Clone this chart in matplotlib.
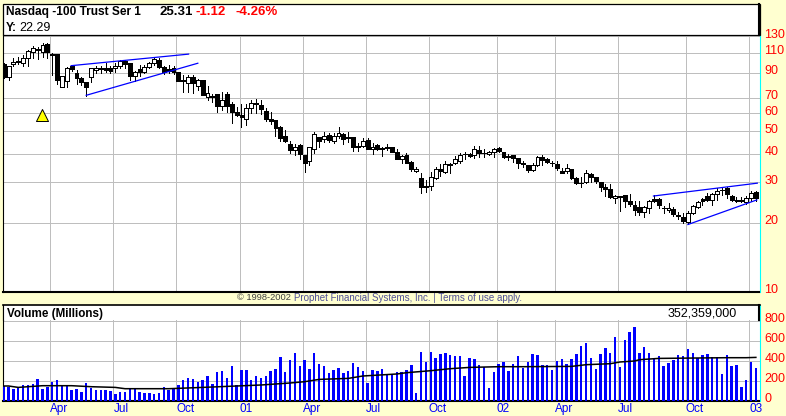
import matplotlib
matplotlib.use('Agg')
import numpy as np
import matplotlib.pyplot as plt
from matplotlib.patches import Rectangle
from matplotlib.transforms import ScaledTranslation

plt.rcParams['font.family'] = ['Liberation Sans', 'DejaVu Sans']

# Weekly candles, oldest first
opens = [98.4, 86.3, 98.4, 100.4, 99.4, 104.4, 110.8, 114.2, 110.8, 120.2, 108.6, 108.6, 78, 82.9, 96.4, 89.9, 85.4, 82.1, 86.3, 92.5,
         93.6, 94.5, 94.5, 94.5, 96.4, 101.4, 99.4, 87.2, 93.6, 90.8, 95.4, 99.4, 102.4, 95.4, 93.6, 94.5, 90.8, 83.7, 81.3, 86.3,
         78.8, 83.7, 70.6, 71.3, 72.8, 64.4, 72.8, 65.8, 60.7, 58.9, 56.6, 63.2, 65.8, 65.1, 61.3, 56.6, 56, 52.2, 47.6, 44,
         41.4, 43.5, 39.4, 37.1, 41.8, 47.2, 46.2, 48.1, 45.3, 47.6, 48.6, 46.7, 47.2, 42.7, 43.1, 45.8, 41.8, 43.5, 42.2, 42.2,
         42.7, 40.6, 37.8, 39.4, 36.7, 33.5, 31.2, 28.8, 28.8, 31.2, 34.2, 33.2, 35.8, 36.3, 37.1, 39.7, 39.8, 39.4, 41.4, 40.2,
         39.8, 40.6, 42.2, 40.6, 39, 39.4, 38.2, 36.3, 35.6, 33.9, 35.6, 38.6, 37.8, 36.3, 36, 33.5, 33.5, 34.2, 31.2, 29.7,
         30, 32.5, 31.6, 30, 28.5, 28, 25.6, 26.1, 26.3, 24.8, 23.8, 23.4, 22.2, 23.1, 25.3, 25.3, 23.1, 22.7, 22.9, 21.4,
         21.1, 20.1, 22, 23.4, 25.3, 26.1, 25, 26.6, 27.7, 28.3, 26.1, 25, 25, 24.6, 25.6, 27.2]
closes = [86.3, 96.4, 100.4, 101.4, 104.4, 111.9, 115.4, 113, 119, 110.8, 107.6, 83.7, 87.2, 94.5, 93.6, 85.4, 82.1, 78, 94.5, 94.5,
          94, 92.5, 91.7, 96.4, 101.4, 98.4, 87.2, 90.8, 90.8, 95.4, 99.4, 103.4, 95.4, 90.8, 91.7, 90.8, 82.9, 82.9, 86.3, 81.3,
          83.7, 72, 73.5, 70.6, 64.4, 68.4, 64.4, 60.7, 58.9, 57.7, 63.2, 66.4, 66.4, 62.5, 56.6, 55.4, 51.7, 46.7, 45.3, 41.4,
          42.7, 39.8, 36.3, 42.7, 48.6, 45.3, 47.6, 45.8, 47.6, 49.1, 46.2, 47.2, 42.7, 43.1, 45.3, 41.8, 42.7, 41.8, 42, 42.7,
          40.6, 37.8, 39, 36.3, 34.2, 34.2, 28.5, 28.7, 31.6, 34.2, 33.5, 36, 36, 37.8, 39.4, 39.8, 39, 41.8, 40.2, 40.3,
          40.6, 41.8, 41, 38.6, 38.6, 38.2, 36.3, 36.1, 33.9, 35.6, 38.6, 37.4, 36.7, 36.4, 34.6, 32.9, 34.6, 31.2, 29.7, 29.8,
          32.9, 31.6, 30.3, 28.5, 28, 25.8, 26.1, 25.8, 24.8, 24.1, 22.7, 22.2, 23.4, 24.8, 24.8, 23.8, 23.2, 23.1, 21.8, 21.5,
          20.3, 22, 23.6, 24.6, 24.8, 25, 26.6, 27.4, 27.8, 26.6, 25, 24.8, 24.8, 25.6, 26.9, 25.6]
highs = [99.4, 96.4, 104.4, 105.5, 107.6, 113, 117.8, 116.6, 121.4, 121.4, 109.7, 108.6, 87.2, 95, 96.4, 92.5, 86.3, 82.1, 94.5, 96.4,
         96.4, 99.4, 96.4, 99.4, 102.4, 102.4, 99.4, 91.7, 97.3, 97.3, 100.4, 105.5, 104.4, 96.4, 97.3, 96.4, 90.8, 88, 88, 88,
         84.6, 83.7, 78.8, 72.8, 72.8, 74.2, 74.2, 67.1, 63.8, 65.8, 65.8, 68.4, 69, 68.4, 63.2, 60.7, 56, 52.7, 50.6, 45.3,
         44, 44, 39.4, 42.7, 49.6, 47.2, 49.6, 49.1, 49.1, 52.2, 49.1, 49.6, 47.2, 44.4, 46.7, 46.7, 44.4, 44, 42.7, 44,
         42.7, 41.8, 39.4, 40.2, 37.1, 34.9, 32.9, 30.6, 33.2, 34.9, 36, 37.1, 36.3, 39, 40.2, 40.6, 40.2, 43.1, 43.1, 41.8,
         41, 42.2, 42.7, 40.6, 39.8, 39.4, 38.2, 37.1, 35.6, 36.3, 39, 39.4, 38.2, 37.1, 37.1, 34.6, 36, 34.2, 31.6, 31.6,
         33.9, 32.9, 31.6, 30, 29.4, 29.4, 26.3, 26.1, 26.3, 26.6, 24.8, 24.8, 23.6, 25, 26.3, 25.6, 23.6, 24.3, 23.4, 22.2,
         22, 22.5, 23.8, 24.8, 25.6, 26.9, 26.9, 28.3, 28.5, 28.5, 26.3, 25.8, 25.8, 26.1, 27.4, 27.4]
lows = [85.4, 83.7, 96.4, 98.4, 96.4, 96.4, 104.4, 103.4, 105.5, 104.4, 88, 80.5, 78, 78, 91.7, 80.5, 79.6, 71.3, 82.1, 89.9,
        89.9, 90.8, 89.9, 90.8, 94.5, 94.5, 83.7, 82.9, 87.2, 89.9, 94.5, 97.3, 94.5, 89, 89.9, 89, 82.9, 74.2, 74.2, 73.5,
        75.7, 72, 68.4, 67.1, 60.7, 61.9, 60.7, 54.3, 58.3, 52.2, 53.2, 60.1, 60.1, 59.5, 55.4, 53.8, 47.6, 45.3, 44.9, 40.2,
        39.4, 37.8, 33.2, 35.6, 40.2, 42.7, 44.9, 44.9, 44.4, 46.7, 44, 44.9, 41, 41, 42.7, 41.8, 39.8, 41.4, 39, 41.4,
        40.6, 37.8, 36.3, 36.3, 33.5, 33.2, 26.9, 27.2, 27.7, 30.9, 31.9, 32.9, 32.9, 36, 36.3, 37.8, 38.6, 38.2, 38.6, 38.6,
        39.4, 38.6, 40.6, 38.2, 37.4, 36.7, 34.6, 34.9, 33.2, 33.5, 35.3, 35.6, 36.3, 35.3, 33.9, 32.9, 32.9, 30.9, 29.4, 28.5,
        29.7, 30, 29.7, 27.4, 26.1, 25.6, 24.3, 22.5, 23.4, 23.6, 21.6, 21.6, 21.1, 22, 24.6, 23.1, 22, 22.2, 21.4, 20.7,
        19.9, 19.7, 21.8, 23.1, 23.8, 24.8, 23.8, 25, 26.3, 25.6, 24.8, 24.6, 24.6, 24.1, 24.8, 24.8]

# Weekly volume in millions
volume = [147, 140, 117, 133, 153, 153, 163, 217, 117, 140, 187, 207, 153, 153, 107, 117, 87, 177, 127, 107,
          107, 107, 97, 67, 87, 87, 123, 123, 87, 77, 77, 67, 77, 137, 107, 123, 157, 207, 227, 217,
          187, 207, 247, 167, 287, 293, 227, 347, 157, 307, 307, 207, 247, 227, 247, 297, 317, 437, 287, 407,
          477, 347, 407, 317, 477, 367, 347, 277, 307, 327, 277, 297, 377, 337, 297, 177, 307, 297, 317, 267,
          267, 287, 287, 307, 357, 77, 487, 387, 487, 427, 467, 477, 457, 447, 447, 247, 427, 417, 357, 337,
          127, 287, 367, 387, 297, 367, 447, 327, 387, 467, 457, 357, 357, 307, 397, 417, 367, 417, 467, 547,
          577, 427, 317, 467, 527, 477, 637, 337, 607, 687, 737, 477, 537, 477, 427, 447, 347, 377, 407, 457,
          447, 517, 477, 427, 457, 467, 437, 437, 267, 457, 347, 357, 137, 207, 387, 327]

# Volume average line, read at its corners
avg_weeks = [0, 1, 3, 8, 14, 18, 23, 25, 34, 41, 48, 53, 59, 62, 65, 71, 74, 81, 83, 88, 92, 96, 102, 107,
             117, 120, 125, 127, 130, 131, 135, 149, 153, 155]
avg_volume = [147, 147, 133, 150, 150, 140, 133, 120, 120, 133, 147, 157, 177, 190, 213, 223, 247, 267, 280, 300, 320, 333, 340, 340,
              343, 360, 370, 387, 397, 410, 423, 430, 430, 433]

# Trend channels
channel_weeks = [[13.9, 38.1], [17, 40], [133.9, 155.3], [141, 155.2]]
channel_prices = [[96.7, 108.6], [71.8, 99.1], [26.1, 29.7], [19.6, 25.1]]

signal_week = [7.9]
signal_price = [59.2]

month_weeks = [9.6, 22.6, 35.6, 48.6, 61.6, 74.6, 87.6, 101.6, 113.6, 126.6, 140.6, 153.6]
month_labels = ['Apr', 'Jul', 'Oct', '01', 'Apr', 'Jul', 'Oct', '02', 'Apr', 'Jul', 'Oct', '03']
price_ticks = [10, 20, 30, 40, 50, 60, 70, 90, 110, 130]
volume_ticks = [0, 200, 400, 600, 800]

BG = '#FFFFD0'
GRID = '#BEBEBE'
W, H = 786, 416
weeks = np.arange(len(closes))


def panel(left, top, right, bottom):
    return fig.add_axes([left / W, 1 - bottom / H, (right - left) / W, (bottom - top) / H])


def style_axis(ax, ticks, labels):
    ax.set_xlim(-0.25, 155.75)
    ax.set_xticks(month_weeks)
    ax.set_yticks(ticks)
    ax.set_yticklabels(labels, color='#FF0000', fontsize=9)
    ax.minorticks_off()
    ax.yaxis.tick_right()
    ax.grid(True, color=GRID, linewidth=0.72, antialiased=False)
    ax.set_axisbelow(True)
    ax.tick_params(axis='both', which='both', length=0)
    ax.tick_params(axis='y', pad=3.5)
    # the labels sit a little above their grid lines
    lift = ScaledTranslation(0, 3 / 100, fig.dpi_scale_trans)
    for label in ax.get_yticklabels():
        label.set_transform(label.get_transform() + lift)
    ax.spines['left'].set_linewidth(0.8)
    ax.spines['top'].set_visible(False)
    ax.spines['bottom'].set_linewidth(1.5)
    ax.spines['right'].set_color('#00FFFF')
    ax.spines['right'].set_linewidth(0.8)


fig = plt.figure(figsize=(W / 100, H / 100), dpi=100, facecolor=BG)

# Price panel
ax = panel(2.5, 35, 759.5, 291.5)
ax.set_yscale('log')
ax.set_ylim(10, 131.6)
style_axis(ax, price_ticks, [str(p) for p in price_ticks])
ax.set_xticklabels([])

ax.vlines(weeks, lows, highs, color='black', linewidth=0.72, zorder=3, antialiased=False)
o = np.array(opens)
c = np.array(closes)
colors = ['white' if b > a else 'black' for a, b in zip(o, c)]
ax.bar(weeks, np.abs(c - o), bottom=np.minimum(o, c), width=0.8, color=colors,
       edgecolor='black', linewidth=0.72, zorder=4, antialiased=False)
for xs, ys in zip(channel_weeks, channel_prices):
    ax.plot(xs, ys, color='#0000FF', linewidth=0.9, zorder=5)
ax.scatter(signal_week, signal_price, marker='^', s=75, color='#FFFF00', edgecolor='black', linewidth=0.7, zorder=5)

# Volume panel
ax2 = panel(2.5, 304.5, 759.5, 400.7)
ax2.set_ylim(0, 962)
style_axis(ax2, volume_ticks, [str(v) for v in volume_ticks])
ax2.set_xticklabels(month_labels, color='#0000FF', fontsize=8.5, ha='left')
ax2.tick_params(axis='x', pad=1.5)
ax2.bar(weeks, volume, width=0.5, color='#0000FF', zorder=3, antialiased=False)
ax2.plot(avg_weeks, avg_volume, color='black', linewidth=1.1, zorder=4)

# Overlay in pixel units for the header strips and captions
top = fig.add_axes([0, 0, 1, 1], zorder=10)
top.set_xlim(0, W)
top.set_ylim(H, 0)
top.axis('off')
top.add_patch(Rectangle((2.5, 3.5), 757, 31.5, facecolor='white', edgecolor='black', linewidth=0.9))
top.plot([759, 759], [3.5, 35], color='black', linewidth=1.5)
top.add_patch(Rectangle((2.5, 304.5), 757, 15.5, facecolor='white', edgecolor='none'))
top.plot([2.5, 759.5], [304.5, 304.5], color='black', linewidth=1.2)
top.plot([2.5, 2.5], [304.5, 320], color='black', linewidth=0.8)
top.plot([759, 759], [304.5, 320], color='black', linewidth=1.5)

top.text(6, 12, 'Nasdaq -100 Trust Ser 1', fontsize=8.6, fontweight='bold', va='center', color='black')
top.text(159, 12, '25.31', fontsize=9.5, fontweight='bold', va='center', color='black')
top.text(196, 12, '-1.12', fontsize=9.5, fontweight='bold', va='center', color='#FF0000')
top.text(235, 12, '-4.26%', fontsize=9.5, fontweight='bold', va='center', color='#FF0000')
top.text(6, 28, 'Y:', fontsize=8.6, fontweight='bold', va='center', color='black')
top.text(19, 28, '22.29', fontsize=9, va='center', color='black')
top.text(7, 314, 'Volume (Millions)', fontsize=8.4, fontweight='bold', va='center', color='black')
top.text(737, 313, '352,359,000', fontsize=9, va='center', ha='right', color='black')
top.text(237, 298, '\u00a9 1998-2002', fontsize=6.7, va='center', color='#404040')
top.text(294, 298, 'Prophet Financial Systems, Inc. | Terms of use apply.', fontsize=7, va='center', color='#505098')

fig.savefig('out.png', dpi=100, facecolor=BG)
